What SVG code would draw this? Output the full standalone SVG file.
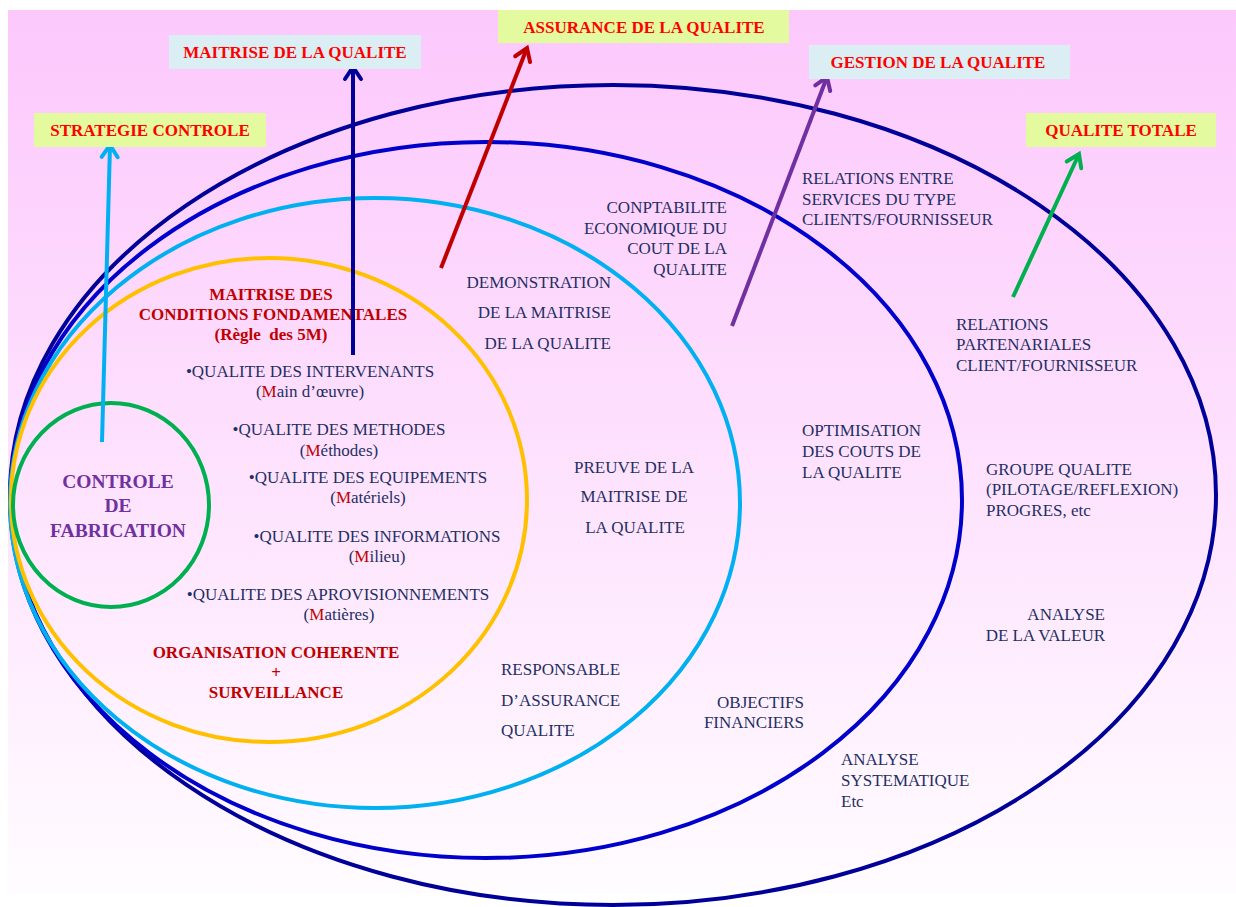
<svg xmlns="http://www.w3.org/2000/svg" width="1236" height="907" viewBox="0 0 1236 907">
<style>
.t{font-family:"Liberation Serif","Times New Roman",serif;font-size:17px;fill:#1f2f63}
.c{text-anchor:middle}
.e{text-anchor:end}
.h{font-weight:bold;fill:#c00000}
.m{fill:#c00000}
.cf{font-family:"Liberation Serif","Times New Roman",serif;font-size:19.5px;font-weight:bold;fill:#7030a0;text-anchor:middle}
.lbl{font-family:"Liberation Serif","Times New Roman",serif;font-size:17px;font-weight:bold;fill:#ff0000;text-anchor:middle}
.ring{fill:none;stroke-width:4}
.bx1{fill:#e4fa9e}
.bx2{fill:#daeef3}
.arr{fill:none;stroke-width:4}
</style>
<defs>
<linearGradient id="bg" x1="0" y1="0" x2="0" y2="1">
<stop offset="0" stop-color="#fcc8fc"/>
<stop offset="0.6" stop-color="#fee6fe"/>
<stop offset="1" stop-color="#fffcff"/>
</linearGradient>
<marker id="hCyan" markerUnits="userSpaceOnUse" markerWidth="24" markerHeight="24" viewBox="0 0 24 24" refX="19" refY="12" orient="auto"><path d="M7,4 L19,12 L7,20" fill="none" stroke="#00b0f0" stroke-width="4" stroke-linecap="round"/></marker>
<marker id="hNavy" markerUnits="userSpaceOnUse" markerWidth="24" markerHeight="24" viewBox="0 0 24 24" refX="19" refY="12" orient="auto"><path d="M7,4 L19,12 L7,20" fill="none" stroke="#000099" stroke-width="4" stroke-linecap="round"/></marker>
<marker id="hRed" markerUnits="userSpaceOnUse" markerWidth="24" markerHeight="24" viewBox="0 0 24 24" refX="19" refY="12" orient="auto"><path d="M7,4 L19,12 L7,20" fill="none" stroke="#c00000" stroke-width="4" stroke-linecap="round"/></marker>
<marker id="hPurple" markerUnits="userSpaceOnUse" markerWidth="24" markerHeight="24" viewBox="0 0 24 24" refX="19" refY="12" orient="auto"><path d="M7,4 L19,12 L7,20" fill="none" stroke="#7030a0" stroke-width="4" stroke-linecap="round"/></marker>
<marker id="hGreen" markerUnits="userSpaceOnUse" markerWidth="24" markerHeight="24" viewBox="0 0 24 24" refX="19" refY="12" orient="auto"><path d="M7,4 L19,12 L7,20" fill="none" stroke="#00b050" stroke-width="4" stroke-linecap="round"/></marker>
</defs>
<rect x="0" y="0" width="1236" height="907" fill="#ffffff"/>
<rect x="8" y="10" width="1228" height="883" fill="url(#bg)"/>

<g id="qualite-totale-zone">
<ellipse class="ring" cx="613" cy="495" rx="603" ry="410" stroke="#000099"/>
<text class="t" x="956" y="330">RELATIONS</text>
<text class="t" x="956" y="350">PARTENARIALES</text>
<text class="t" x="956" y="371">CLIENT/FOURNISSEUR</text>
<text class="t" x="986" y="475">GROUPE QUALITE</text>
<text class="t" x="986" y="495">(PILOTAGE/REFLEXION)</text>
<text class="t" x="986" y="516">PROGRES, etc</text>
<text class="t e" x="1105" y="620">ANALYSE</text>
<text class="t e" x="1105" y="641">DE LA VALEUR</text>
<text class="t" x="841" y="765">ANALYSE</text>
<text class="t" x="841" y="786">SYSTEMATIQUE</text>
<text class="t" x="841" y="807">Etc</text>
</g>

<g id="gestion-zone">
<ellipse class="ring" cx="486" cy="500" rx="476" ry="358" stroke="#0000cc"/>
<text class="t e" x="727" y="213">CONPTABILITE</text>
<text class="t e" x="727" y="234">ECONOMIQUE DU</text>
<text class="t e" x="727" y="254">COUT DE LA</text>
<text class="t e" x="727" y="275">QUALITE</text>
<text class="t" x="802" y="184">RELATIONS ENTRE</text>
<text class="t" x="802" y="205">SERVICES DU TYPE</text>
<text class="t" x="802" y="225">CLIENTS/FOURNISSEUR</text>
<text class="t" x="802" y="436">OPTIMISATION</text>
<text class="t" x="802" y="457">DES COUTS DE</text>
<text class="t" x="802" y="478">LA QUALITE</text>
<text class="t e" x="804" y="708">OBJECTIFS</text>
<text class="t e" x="804" y="728">FINANCIERS</text>
</g>

<g id="assurance-zone">
<ellipse class="ring" cx="375" cy="503" rx="365" ry="305" stroke="#00b0f0"/>
<text class="t e" x="611" y="288">DEMONSTRATION</text>
<text class="t e" x="611" y="318">DE LA MAITRISE</text>
<text class="t e" x="611" y="349">DE LA QUALITE</text>
<text class="t c" x="634" y="473">PREUVE DE LA</text>
<text class="t c" x="634" y="502">MAITRISE DE</text>
<text class="t c" x="635" y="533">LA QUALITE</text>
<text class="t" x="501" y="675">RESPONSABLE</text>
<text class="t" x="501" y="706">D’ASSURANCE</text>
<text class="t" x="501" y="736">QUALITE</text>
</g>

<g id="maitrise-zone">
<ellipse class="ring" cx="269" cy="500" rx="258" ry="242" stroke="#ffc000"/>
<text class="t c h" x="271" y="300">MAITRISE DES</text>
<text class="t c h" x="273" y="320">CONDITIONS FONDAMENTALES</text>
<text class="t c h" x="271" y="340" xml:space="preserve">(Règle  des 5M)</text>
<text class="t c" x="310" y="377">•QUALITE DES INTERVENANTS</text>
<text class="t c" x="310" y="397">(<tspan class="m">M</tspan>ain d’œuvre)</text>
<text class="t c" x="339" y="435">•QUALITE DES METHODES</text>
<text class="t c" x="339" y="456">(<tspan class="m">M</tspan>éthodes)</text>
<text class="t c" x="368" y="483">•QUALITE DES EQUIPEMENTS</text>
<text class="t c" x="368" y="503">(<tspan class="m">M</tspan>atériels)</text>
<text class="t c" x="377" y="542">•QUALITE DES INFORMATIONS</text>
<text class="t c" x="377" y="562">(<tspan class="m">M</tspan>ilieu)</text>
<text class="t c" x="338" y="600">•QUALITE DES APROVISIONNEMENTS</text>
<text class="t c" x="339" y="620">(<tspan class="m">M</tspan>atières)</text>
<text class="t c h" x="276" y="658">ORGANISATION COHERENTE</text>
<text class="t c h" x="276" y="678">+</text>
<text class="t c h" x="276" y="698">SURVEILLANCE</text>
</g>

<g id="controle-fabrication">
<ellipse class="ring" cx="111" cy="505" rx="98" ry="102" stroke="#00b050"/>
<text class="cf" x="118" y="488">CONTROLE</text>
<text class="cf" x="118" y="512">DE</text>
<text class="cf" x="118" y="537">FABRICATION</text>
</g>

<g id="connectors">
<line class="arr" x1="102" y1="442" x2="110" y2="145" stroke="#00b0f0" marker-end="url(#hCyan)"/>
<line class="arr" x1="353" y1="355" x2="353" y2="67" stroke="#000099" marker-end="url(#hNavy)"/>
<line class="arr" x1="441" y1="268" x2="527" y2="48" stroke="#c00000" marker-end="url(#hRed)"/>
<line class="arr" x1="732" y1="326" x2="827" y2="77" stroke="#7030a0" marker-end="url(#hPurple)"/>
<line class="arr" x1="1013" y1="297" x2="1079" y2="154" stroke="#00b050" marker-end="url(#hGreen)"/>
</g>

<g id="label-strategie">
<rect class="bx1" x="34" y="113" width="232" height="34"/>
<text class="lbl" x="150" y="136">STRATEGIE CONTROLE</text>
</g>
<g id="label-maitrise">
<rect class="bx2" x="169" y="35" width="252" height="34"/>
<text class="lbl" x="295" y="58">MAITRISE DE LA QUALITE</text>
</g>
<g id="label-assurance">
<rect class="bx1" x="498" y="10" width="291" height="33"/>
<text class="lbl" x="644" y="33">ASSURANCE DE LA QUALITE</text>
</g>
<g id="label-gestion">
<rect class="bx2" x="809" y="45" width="261" height="34"/>
<text class="lbl" x="938" y="68">GESTION DE LA QUALITE</text>
</g>
<g id="label-totale">
<rect class="bx1" x="1026" y="113" width="190" height="34"/>
<text class="lbl" x="1121" y="136">QUALITE TOTALE</text>
</g>
</svg>
